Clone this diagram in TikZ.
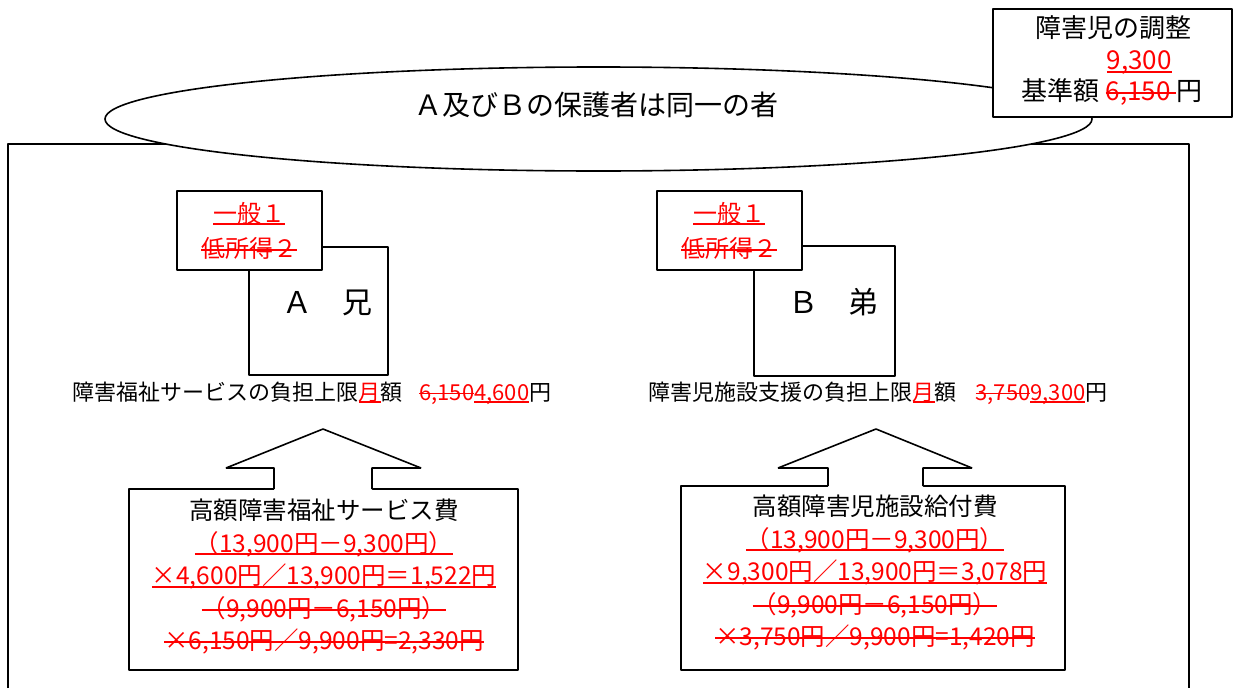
\documentclass[tikz,border=0pt]{standalone}
\usepackage{fontspec}
\setmainfont{Noto Sans CJK JP}
\usetikzlibrary{shapes.geometric}
\newcommand\uln[1]{\setbox0\hbox{#1}\rlap{\rule[-0.12em]{\wd0}{0.08em}}\box0}
\newcommand\stk[1]{\setbox0\hbox{#1}\rlap{\rule[0.27em]{\wd0}{0.08em}}\box0}

\begin{document}
\begin{tikzpicture}[x=1pt,y=-1pt,line join=bevel,line width=1.6pt,
  box/.style={draw,fill=white,inner sep=0pt},
  txt/.style={inner sep=0pt,font=\fontsize{#1}{#1}\selectfont,
    text height=0.88*#1,text depth=0.12*#1},]
\useasboundingbox (0,0) rectangle (1238,688);
\definecolor{redtxt}{rgb}{1.0,0.0,0.0}
%%
  \draw (8,688) -- (8,144) -- (1189,144) -- (1189,688);
  \node (pair) at (598.5,119) [box,ellipse,minimum width=987pt,minimum height=104pt] {};
  \node (pairtxt) at (596,105) [txt=28] {Ａ及びＢの保護者は同一の者};
%% adjustment box
  \node (adj) at (1112.5,63) [box,minimum width=239pt,minimum height=108pt] {};
  \node (adjhead) at (1113,28) [txt=26] {障害児の調整};
  \node (adjnew) at (1106,60) [txt=26,anchor=west,text=redtxt] {\uln{9,300}};
  \node (adjbase) at (1021,91) [txt=26,anchor=west] {基準額 {\color{redtxt}\stk{6,150 }}円};
%% children
  \node (Abox) at (318.5,311) [box,minimum width=139pt,minimum height=128pt] {};
  \node (Aclass) at (249.5,230.5) [box,minimum width=145pt,minimum height=79pt] {};
  \node (Aname) at (327,302) [txt=30] {Ａ　兄};
  \node (Agen) at (249,213) [txt=24,text=redtxt] {\uln{一般１}};
  \node (Alow) at (249,248) [txt=24,text=redtxt] {\stk{低所得２}};
  \node (Bbox) at (824.5,311) [box,minimum width=141pt,minimum height=130pt] {};
  \node (Bclass) at (729.5,230.5) [box,minimum width=145pt,minimum height=79pt] {};
  \node (Bname) at (833.5,302) [txt=30] {Ｂ　弟};
  \node (Bgen) at (729,213) [txt=24,text=redtxt] {\uln{一般１}};
  \node (Blow) at (729,248) [txt=24,text=redtxt] {\stk{低所得２}};
%% monthly limits
  \node (Alimit) at (72,392) [txt=22,anchor=west] {障害福祉サービスの負担上限{\color{redtxt}\uln{月}}額\hspace{0.75em}{\color{redtxt}\stk{6,150}\uln{4,600}}円};
  \node (Blimit) at (648,392) [txt=22,anchor=west] {障害児施設支援の負担上限{\color{redtxt}\uln{月}}額\hspace{0.85em}{\color{redtxt}\stk{3,750}\uln{9,300}}円};
%% benefit boxes
  \node (feeA) at (323.5,579.5) [box,minimum width=389pt,minimum height=181pt] {};
  \node (feeB) at (873,578) [box,minimum width=384pt,minimum height=184pt] {};
  \path [fill=white] (274,492) -- (274,468) -- (226,468) -- (323,429) -- (421,468) -- (372,468) -- (372,492) -- cycle;
  \draw (274,489) -- (274,468) -- (226,468) -- (323,429) -- (421,468) -- (372,468) -- (372,489);
  \path [fill=white] (828,489) -- (828,468) -- (778,468) -- (876,429) -- (972,468) -- (923,468) -- (923,489) -- cycle;
  \draw (828,486) -- (828,468) -- (778,468) -- (876,429) -- (972,468) -- (923,468) -- (923,486);
  \node (feeAtxt) at (324,577) [align=center,text=redtxt,font=\fontsize{24.5}{32.5}\selectfont]
    {{\color{black}高額障害福祉サービス費}\\
     \uln{（13,900円－9,300円）}\\
     \uln{×4,600円／13,900円＝1,522円}\\
     \stk{（9,900円－6,150円）}\\
     \stk{×6,150円／9,900円=2,330円}};
  \node (feeBtxt) at (875,573) [align=center,text=redtxt,font=\fontsize{24.5}{32.5}\selectfont]
    {{\color{black}高額障害児施設給付費}\\
     \uln{（13,900円－9,300円）}\\
     \uln{×9,300円／13,900円＝3,078円}\\
     \stk{（9,900円－6,150円）}\\
     \stk{×3,750円／9,900円=1,420円}};
%
\end{tikzpicture}
\end{document}
